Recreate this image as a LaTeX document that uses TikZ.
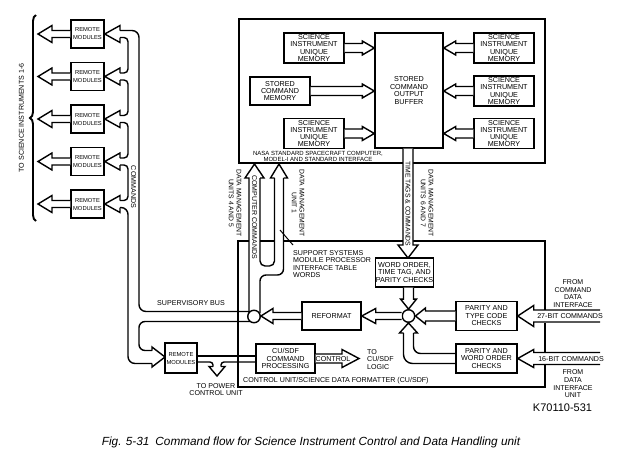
\documentclass[tikz,border=0pt]{standalone}
\usepackage{fontspec}
\setmainfont{Liberation Sans}
\usetikzlibrary{calc,decorations.pathreplacing}
\newcommand\harr[5]{%
  \draw[pipe] ($#1+(0,-#3)$) -- ($#2+({-(#5)},-#3)$) -- ($#2+({-(#5)},-#4)$) -- #2 -- ($#2+({-(#5)},#4)$) -- ($#2+({-(#5)},#3)$) -- ($#1+(0,#3)$);}
\newcommand\varr[5]{%
  \draw[pipe] ($#1+(-#3,0)$) -- ($#2+(-#3,{-(#5)})$) -- ($#2+(-#4,{-(#5)})$) -- #2 -- ($#2+(#4,{-(#5)})$) -- ($#2+(#3,{-(#5)})$) -- ($#1+(#3,0)$);}
\tikzset{
  ln/.style={line width=1.4pt, line join=miter, line cap=butt},
  pipe/.style={ln, draw, fill=white},
  frm/.style={line width=1.8pt, line join=miter},
  box/.style={draw, ln, fill=white, inner sep=0pt, align=center, font=\fontsize{7.2}{7.5}\selectfont},
  membox/.style={box, minimum width=60pt, minimum height=30pt, font=\fontsize{7.2}{7.1}\selectfont},
  rmbox/.style={box, minimum width=33pt, minimum height=28pt, font=\fontsize{5.8}{8}\selectfont},
  lbl/.style={inner sep=0pt, align=center, font=\fontsize{7.1}{7.6}\selectfont},
  vlbl/.style={inner sep=0pt, align=center, rotate=-90, font=\fontsize{6.8}{7.8}\selectfont},
  jn/.style={circle, draw, ln, fill=white, minimum size=12.5pt, inner sep=0pt},
}
\begin{document}
\begin{tikzpicture}[x=1pt,y=-1pt]
\useasboundingbox (0,0) rectangle (620,453);

% ---------- NSSC-I frame ----------
\draw[frm] (403,163) -- (239,163) -- (239,19) -- (545,19) -- (545,163) -- (413,163);
\node[membox] (simL1) at (314,48) {SCIENCE\\INSTRUMENT\\UNIQUE\\MEMORY};
\node[membox, minimum height=28pt] (scm) at (280,91) {STORED\\COMMAND\\MEMORY};
\node[membox] (simL2) at (314,133.5) {SCIENCE\\INSTRUMENT\\UNIQUE\\MEMORY};
\node[box, minimum width=68pt, minimum height=115pt] (buf) at (409,90.5) {STORED\\COMMAND\\OUTPUT\\BUFFER};
\node[membox] (simR1) at (504,48) {SCIENCE\\INSTRUMENT\\UNIQUE\\MEMORY};
\node[membox] (simR2) at (504,91) {SCIENCE\\INSTRUMENT\\UNIQUE\\MEMORY};
\node[membox] (simR3) at (504,133.5) {SCIENCE\\INSTRUMENT\\UNIQUE\\MEMORY};
\harr{(simL1.east)}{(buf.west |- simL1.east)}{4.5}{7}{12}
\harr{(scm.east)}{(buf.west |- scm.east)}{4.5}{7}{12}
\harr{(simL2.east)}{(buf.west |- simL2.east)}{4.5}{7}{12}
\harr{(simR1.west)}{(buf.east |- simR1.west)}{4.5}{7}{-12}
\harr{(simR2.west)}{(buf.east |- simR2.west)}{4.5}{7}{-12}
\harr{(simR3.west)}{(buf.east |- simR3.west)}{4.5}{7}{-12}
\node[lbl, font=\fontsize{6}{6.8}\selectfont] (nsscl) at (318,156.5) {NASA STANDARD SPACECRAFT COMPUTER,\\MODEL-I AND STANDARD INTERFACE};

% ---------- CU/SDF frame ----------
\draw[frm] (249,241) -- (238,241) -- (238,387) -- (545,387) -- (545,364.5);
\draw[frm] (545,352.5) -- (545,322.5);
\draw[frm] (545,310.5) -- (545,241) -- (413,241);
\draw[frm] (403,241) -- (283.5,241);
\draw[frm] (274.5,241) -- (260,241);

% ---------- remote modules ----------
\foreach \i/\c in {1/34,2/76.5,3/119,4/161.5,5/204}{
  \node[rmbox] (rm\i) at (87.5,\c) {REMOTE\\MODULES};
  \coordinate (si\i) at (38,\c);
  \harr{(rm\i.west)}{(si\i)}{3.5}{8.5}{-14}
  \draw[ln] (120,\c-3.5) -- (120,\c-8.5) -- (rm\i.east) -- (120,\c+8.5) -- (120,\c+3.5);
}
\draw[ln, rounded corners=4pt] (120,37.5) -- (128,37.5) -- (128,73) -- (120,73);
\draw[ln, rounded corners=4pt] (120,80) -- (128,80) -- (128,115.5) -- (120,115.5);
\draw[ln, rounded corners=4pt] (120,122.5) -- (128,122.5) -- (128,158) -- (120,158);
\draw[ln, rounded corners=4pt] (120,165) -- (128,165) -- (128,200.5) -- (120,200.5);
\draw[line width=1.9pt, decorate, decoration={brace, amplitude=6pt}] (36,221) -- (36,15);
\node[lbl, rotate=90] (tosi) at (21.5,118) {TO SCIENCE INSTRUMENTS 1-6};

% ---------- commands pipe / supervisory bus ----------
\node[jn] (jl) at (254,316.5) {};
\draw[ln, rounded corners=7pt] (120,30.5) -- (139,30.5) -- (139,311.5) -- (250.5,311.5);
\draw[ln, rounded corners=6pt] (250.5,321.5) -- (139,321.5) -- (139,350.5) -- (152,350.5);
\draw[ln] (152,350.5) -- (152,347) -- (165,357) -- (152,367) -- (152,363.5);
\draw[ln, rounded corners=7pt] (152,363.5) -- (128,363.5) -- (128,207.5) -- (120,207.5);
\node[lbl, rotate=-90] (cmds) at (133.5,187) {COMMANDS};
\node[lbl, anchor=west] (sbus) at (157,303) {SUPERVISORY BUS};

% ---------- computer commands / DMU 1 pipes ----------
\draw[ln] (249,313) -- (249,178) -- (245,178) -- (254.5,164) -- (264,178) -- (260,178);
\draw[ln, rounded corners=5pt] (260,178) -- (260,266) -- (274.5,266) -- (274.5,178);
\draw[ln] (274.5,178) -- (270.5,178) -- (279,164) -- (287.5,178) -- (283.5,178);
\draw[ln, rounded corners=6pt] (283.5,178) -- (283.5,275) -- (260,275) -- (260,313);
\node[vlbl] (dmu45) at (235,203) {DATA MANAGEMENT\\UNITS 4 AND 5};
\node[vlbl, font=\fontsize{7}{7.8}\selectfont] (ccl) at (254.5,217) {COMPUTER COMMANDS};
\node[vlbl] (dmu1) at (298,203) {DATA MANAGEMENT\\UNIT 1};
\node[lbl, anchor=north west, align=left] (ssl) at (293,250) {SUPPORT SYSTEMS\\MODULE PROCESSOR\\INTERFACE TABLE\\WORDS};
\coordinate (ldr) at (280,230);
\draw[line width=1pt] (ldr) -- ($(ssl.north west)+(0,-5)$);

% ---------- time tags pipe ----------
\coordinate (ttc) at (408,204);
\varr{(buf.south -| ttc)}{(408,258)}{5}{10}{13}
\node[vlbl] (ttl) at (408,204) {TIME TAGS \& COMMANDS};
\node[vlbl] (dmu67) at (427,203) {DATA MANAGEMENT\\UNITS 6 AND 7};

% ---------- CU/SDF internals ----------
\node[box, minimum width=57pt, minimum height=29pt] (wo) at (404.5,272.5) {WORD ORDER,\\TIME TAG, AND\\PARITY CHECKS};
\node[box, minimum width=59pt, minimum height=28pt] (ref) at (331.5,316) {REFORMAT};
\node[box, minimum width=61pt, minimum height=29pt] (ptc) at (486.5,316) {PARITY AND\\TYPE CODE\\CHECKS};
\node[box, minimum width=61pt, minimum height=29pt] (pwo) at (486.5,358.5) {PARITY AND\\WORD ORDER\\CHECKS};
\node[jn] (jr) at (408.5,316) {};
\varr{(wo.south -| jr.north)}{(jr.north)}{5}{8}{10}
\harr{(ptc.west)}{(jr.east)}{5}{8}{-10}
\draw[ln, rounded corners=7pt] (pwo.west |- 0,353.5) -- (413.5,353.5) -- (413.5,333);
\draw[ln] (413.5,333) -- (417.5,333) -- (jr.south) -- (399.5,333) -- (403.5,333);
\draw[ln, rounded corners=9pt] (403.5,333) -- (403.5,363.5) -- (pwo.west |- 0,363.5);
\harr{(jr.west)}{(ref.east)}{3.5}{7.5}{-14}
\harr{(ref.west)}{(jl.east |- ref.west)}{3.5}{7.5}{-12}

\coordinate (in27) at (600,316);
\coordinate (in16) at (600,358.5);
\harr{(in27)}{(ptc.east)}{6}{10.5}{-16}
\harr{(in16)}{(pwo.east)}{6}{9}{-16}
\node[lbl] (b27) at (570,316.5) {27-BIT COMMANDS};
\node[lbl] (b16) at (571,359) {16-BIT COMMANDS};
\node[lbl, font=\fontsize{7}{7.7}\selectfont] (fcdi) at (573,293.5) {FROM\\COMMAND\\DATA\\INTERFACE};
\node[lbl, font=\fontsize{7}{7.7}\selectfont] (fdiu) at (573,384) {FROM\\DATA\\INTERFACE\\UNIT};

% ---------- lower remote modules / command processing ----------
\node[rmbox, minimum width=32pt, minimum height=30pt] (rm6) at (181,358) {REMOTE\\MODULES};
\node[box, minimum width=59pt, minimum height=29pt] (cmdp) at (285.5,358.5) {CU/SDF\\COMMAND\\PROCESSING};
\draw[ln] (rm6.east |- 0,356) -- (cmdp.west |- 0,356);
\draw[ln, rounded corners=3pt] (rm6.east |- 0,362) -- (213,362) -- (213,366.5);
\draw[ln] (213,366.5) -- (209,366.5) -- (217,376) -- (225,366.5) -- (221,366.5);
\draw[ln, rounded corners=3pt] (221,366.5) -- (221,362) -- (cmdp.west |- 0,362);
\coordinate (ctl) at (359,358.5);
\harr{(cmdp.east)}{(ctl)}{4.5}{9}{17}
\node[lbl] (ctll) at (333,359) {CONTROL};
\node[lbl, anchor=west, align=left] (tocu) at (367,359.5) {TO\\CU/SDF\\LOGIC};
\node[lbl] (topc) at (216,389.5) {TO POWER\\CONTROL UNIT};
\node[lbl, anchor=west] (cusdf) at (243,380.5) {CONTROL UNIT/SCIENCE DATA FORMATTER (CU/SDF)};

% ---------- captions ----------
\node[inner sep=0pt, font=\fontsize{11}{12}\selectfont] (kno) at (562.5,408) {K70110-531};
\node[inner sep=0pt, font=\itshape\fontsize{11.8}{13}\selectfont] (cap) at (311,442) {Fig. 5-31\enspace Command flow for Science Instrument Control and Data Handling unit};
\end{tikzpicture}
\end{document}
